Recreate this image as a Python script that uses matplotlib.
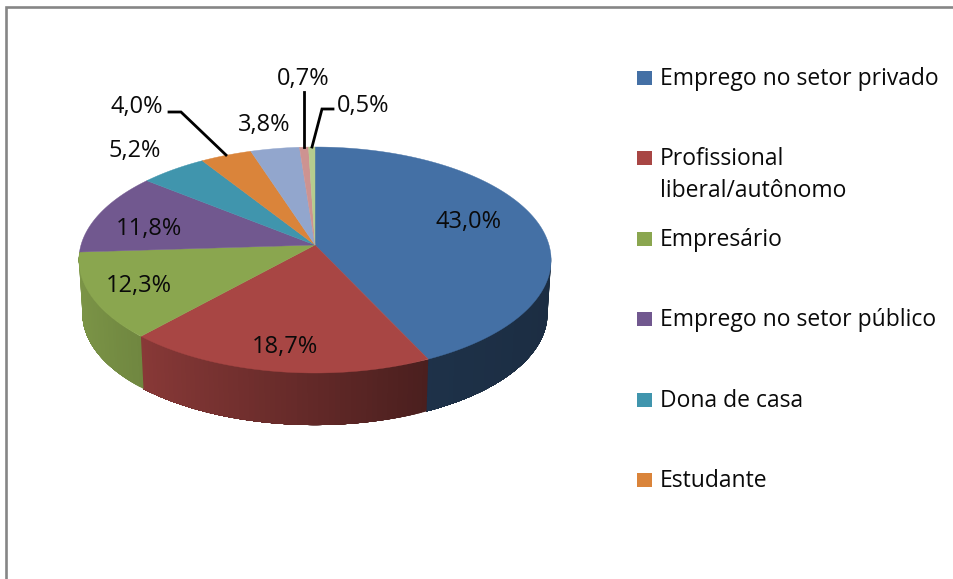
import numpy as np
import matplotlib
matplotlib.use("Agg")
import matplotlib.pyplot as plt
from matplotlib.patches import Rectangle
from matplotlib.colors import to_rgb

categories = ["Emprego no setor privado", "Profissional\nliberal/autônomo", "Empresário",
              "Emprego no setor público", "Dona de casa", "Estudante",
              "Aposentado", "Desempregado", "Outros"]
values = [43.0, 18.7, 12.3, 11.8, 5.2, 4.0, 3.8, 0.7, 0.5]
colors = ["#4470A5", "#A84644", "#8AA64F", "#71588F", "#4095AD", "#DA843A",
          "#92A6CD", "#CD9391", "#B5CC8E"]
legend_count = 6
label_pos = [(469, 222), (285, 347), (139, 286), (149, 229), (135, 151),
             (137, 107), (264, 125), (303, 79), (363, 106)]
leaders = {5: [(169, 112), (181, 112), (226, 155)],
           7: [(304, 92), (304, 147)],
           8: [(333, 109), (322, 109), (312, 147)]}

W, H = 954, 579
plt.rcParams['font.family'] = ['Open Sans', 'DejaVu Sans']
fig = plt.figure(figsize=(W / 100, H / 100), dpi=100, facecolor="white")
ax = fig.add_axes([0, 0, 1, 1])
ax.set_xlim(0, W)
ax.set_ylim(H, 0)
ax.axis("off")

CX, CY, RX, RY, K = 315, 245, 234, 111, 0.1327
CYB, SB = 299, 0.985


def project(t, bottom=False):
    """Clockwise angle from 12 o'clock to perspective-projected screen position."""
    u, v = np.sin(t), np.cos(t)
    w = 1 + K * v
    if bottom:
        return CX + SB * RX * u / w, CYB - SB * RY * v / w
    return CX + RX * u / w, CY - RY * v / w


def shade(t):
    return np.interp(np.sin(t), [-1, -0.7, 0.43, 1], [0.9, 0.82, 0.44, 0.40])


edges = np.concatenate([[0], np.cumsum(values)]) / sum(values) * 2 * np.pi

# Side wall: overlapping strips painted one over the next, so no seams show
for i, c in enumerate(colors):
    a0, a1 = edges[i], edges[i + 1]
    n = max(2, int((a1 - a0) / 0.02))
    ts = np.linspace(a0, a1, n + 1)
    base = np.array(to_rgb(c))
    for t0, t1 in zip(ts[:-1], ts[1:]):
        if np.cos((t0 + t1) / 2) > -0.07:
            continue
        col = tuple(base * shade((t0 + t1) / 2))
        seg = np.linspace(t0, a1, 40)
        xt, yt = project(seg)
        xb, yb = project(seg[::-1], bottom=True)
        ax.fill(np.r_[xt, xb], np.r_[yt, yb], facecolor=col, edgecolor="none", lw=0, zorder=1)

# Top face
for i, c in enumerate(colors):
    ts = np.linspace(edges[i], edges[i + 1], max(3, int(values[i] * 6)))
    x, y = project(ts)
    ax.fill(np.r_[CX, x], np.r_[CY, y], color=c, lw=0.3, zorder=2)

# Value labels
for v, (x, y) in zip(values, label_pos):
    ax.text(x, y, f"{v:.1f}%".replace(".", ","), ha="center", va="center",
            fontsize=17, color="#0a0a0a", zorder=4)

# Leader lines
for pts in leaders.values():
    xs, ys = zip(*pts)
    ax.plot(xs, ys, color="black", lw=2, solid_joinstyle="miter", zorder=3)

# Legend (only the first entries fit in the frame)
for i in range(legend_count):
    yc = 78 + i * 80.4
    ax.add_patch(Rectangle((637, yc - 7), 15, 14, facecolor=colors[i], edgecolor="none", zorder=3))
    for j, line in enumerate(categories[i].split("\n")):
        ax.text(660, yc + 7 + j * 32, line, ha="left", va="baseline", fontsize=16.5,
                color="#0a0a0a", zorder=4)

# Chart frame
ax.plot([6, 6, W], [H, 7, 7], color="#868686", lw=1.9, solid_joinstyle="miter", zorder=5)

fig.savefig("out.png", dpi=100, facecolor="white")
